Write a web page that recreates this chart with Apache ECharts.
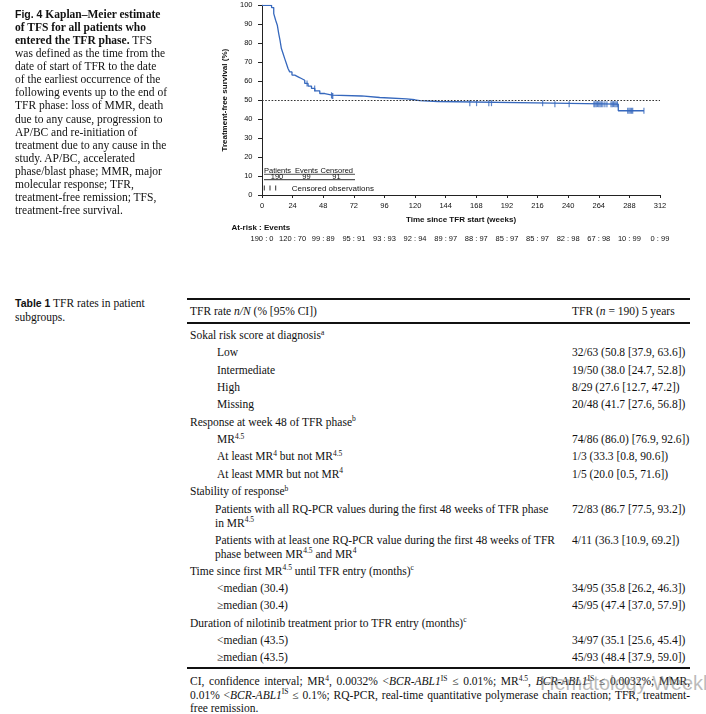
<!DOCTYPE html>
<html><head><meta charset="utf-8">
<script src="https://cdn.jsdelivr.net/npm/echarts@6/dist/echarts.min.js"></script>
<style>
html,body{margin:0;padding:0;background:#fff;width:706px;height:714px;overflow:hidden;position:relative;}
#chart{position:absolute;left:0;top:0;width:706px;height:260px;}
.t{position:absolute;font-family:'Liberation Serif','Times New Roman',serif;font-size:11.5px;color:#111;white-space:nowrap;line-height:14px;}
.b{font-weight:bold}
.sans{font-family:'Liberation Sans',Arial,sans-serif;font-size:10.5px;}
sup{font-size:7.5px;vertical-align:0;position:relative;top:-4.5px;line-height:0}
.rule{position:absolute;background:#111;}
.just{text-align:justify;text-align-last:justify;white-space:normal;}
.wm{position:absolute;font-family:'Liberation Sans','Noto Sans',sans-serif;font-size:20px;color:rgba(120,120,120,0.5);white-space:nowrap;}
</style></head><body>
<div id="chart"></div>
<div id="text"></div>
<script>
// ---------- chart data ----------
const weeks    = [0, 7.5, 9.2, 10.7, 12.0, 13.1, 14.1, 15.2, 16.5, 17.8, 19.1, 20.4, 21.7, 23.5, 25.7, 28.3, 30.9, 33.5, 36.1, 38.8, 41.4, 45.3, 49.2, 55.0, 78.0, 92.3, 113.3, 119.8, 123.7, 137.8, 228.1, 279.3, 299.4];
const survival = [100, 98.8, 95.6, 92.1, 89.5, 85.1, 81.6, 77.2, 74.6, 71.9, 69.3, 66.7, 64.9, 63.2, 62.3, 61.4, 60.5, 58.8, 57.4, 56.2, 54.9, 53.5, 52.6, 52.2, 51.4, 50.7, 50.2, 49.7, 49.3, 48.4, 47.9, 44.4, 44.4];
const censorWeeks = [35.3, 41.3, 54.5, 55.0, 55.5, 162.9, 168.2, 177.8, 179.9, 220.0, 229.6, 240.8, 260.2, 261.0, 262.0, 263.0, 264.0, 265.0, 266.0, 267.2, 268.8, 270.4, 273.6, 274.6, 275.6, 276.6, 277.6, 278.6, 286.7, 287.7, 288.7, 289.7, 290.6, 299.4];
const xTicks = [0, 24, 48, 72, 96, 120, 144, 168, 192, 216, 240, 264, 288, 312];
const atRisk       = [190, 120, 99, 95, 93, 92, 89, 88, 85, 85, 82, 67, 10, 0];
const eventsAtRisk = [0, 70, 89, 91, 93, 94, 97, 97, 97, 97, 98, 98, 99, 99];
const summaryHeads = ['Patients', 'Events', 'Censored'];
const summaryVals  = [190, 99, 91];

// ---------- text data ----------
const captionLines = [
  '<span class="sans b">Fig. 4</span> <b>Kaplan–Meier estimate</b>',
  '<b>of TFS for all patients who</b>',
  '<b>entered the TFR phase.</b> TFS',
  'was defined as the time from the',
  'date of start of TFR to the date',
  'of the earliest occurrence of the',
  'following events up to the end of',
  'TFR phase: loss of MMR, death',
  'due to any cause, progression to',
  'AP/BC and re-initiation of',
  'treatment due to any cause in the',
  'study. AP/BC, accelerated',
  'phase/blast phase; MMR, major',
  'molecular response; TFR,',
  'treatment-free remission; TFS,',
  'treatment-free survival.'
];
const tableCaption = ['<span class="sans b">Table 1</span> TFR rates in patient', 'subgroups.'];
const tableHeader = ['TFR rate <i>n/N</i> (% [95% CI])', 'TFR (<i>n</i> = 190) 5 years'];
const tableRows = [
  {label: ['Sokal risk score at diagnosis<sup>a</sup>'], level: 0},
  {label: ['Low'], value: '32/63 (50.8 [37.9, 63.6])', level: 1},
  {label: ['Intermediate'], value: '19/50 (38.0 [24.7, 52.8])', level: 1},
  {label: ['High'], value: '8/29 (27.6 [12.7, 47.2])', level: 1},
  {label: ['Missing'], value: '20/48 (41.7 [27.6, 56.8])', level: 1},
  {label: ['Response at week 48 of TFR phase<sup>b</sup>'], level: 0},
  {label: ['MR<sup>4.5</sup>'], value: '74/86 (86.0) [76.9, 92.6])', level: 1},
  {label: ['At least MR<sup>4</sup> but not MR<sup>4.5</sup>'], value: '1/3 (33.3 [0.8, 90.6])', level: 1},
  {label: ['At least MMR but not MR<sup>4</sup>'], value: '1/5 (20.0 [0.5, 71.6])', level: 1},
  {label: ['Stability of response<sup>b</sup>'], level: 0},
  {label: ['Patients with all RQ-PCR values during the first 48 weeks of TFR phase', 'in MR<sup>4.5</sup>'], value: '72/83 (86.7 [77.5, 93.2])', level: 1},
  {label: ['Patients with at least one RQ-PCR value during the first 48 weeks of TFR', 'phase between MR<sup>4.5</sup> and MR<sup>4</sup>'], value: '4/11 (36.3 [10.9, 69.2])', level: 1},
  {label: ['Time since first MR<sup>4.5</sup> until TFR entry (months)<sup>c</sup>'], level: 0},
  {label: ['&lt;median (30.4)'], value: '34/95 (35.8 [26.2, 46.3])', level: 1},
  {label: ['≥median (30.4)'], value: '45/95 (47.4 [37.0, 57.9])', level: 1},
  {label: ['Duration of nilotinib treatment prior to TFR entry (months)<sup>c</sup>'], level: 0},
  {label: ['&lt;median (43.5)'], value: '34/97 (35.1 [25.6, 45.4])', level: 1},
  {label: ['≥median (43.5)'], value: '45/93 (48.4 [37.9, 59.0])', level: 1}
];
const footnoteLines = [
  'CI, confidence interval; MR<sup>4</sup>, 0.0032% &lt;<i>BCR-ABL1</i><sup>IS</sup> ≤ 0.01%; MR<sup>4.5</sup>, <i>BCR-ABL1</i><sup>IS</sup> ≤ 0.0032%; MMR,',
  '0.01% &lt;<i>BCR-ABL1</i><sup>IS</sup> ≤ 0.1%; RQ-PCR, real-time quantitative polymerase chain reaction; TFR, treatment-',
  'free remission.'
];
const watermark = 'Hematology Weekly';

// ---------- build text ----------
const T = document.getElementById('text');
function addText(html, x, yc, cls, extra) {
  const d = document.createElement('div');
  d.className = 't' + (cls ? ' ' + cls : '');
  d.style.left = x + 'px';
  d.style.top = (yc - 7) + 'px';
  if (extra) Object.assign(d.style, extra);
  d.innerHTML = html;
  T.appendChild(d);
  return d;
}
function addRule(x1, x2, y, h) {
  const d = document.createElement('div');
  d.className = 'rule';
  d.style.left = x1 + 'px'; d.style.width = (x2 - x1) + 'px';
  d.style.top = (y - h / 2) + 'px'; d.style.height = h + 'px';
  T.appendChild(d);
}
captionLines.forEach((l, i) => addText(l, 15, 14 + i * 13.07));
tableCaption.forEach((l, i) => addText(l, 15, 303 + i * 14));

const TL = 187, TR = 690, LX = 190, IND = 217, VX = 572;
addRule(TL, TR, 298.5, 2);
addText(tableHeader[0], LX, 311);
addText(tableHeader[1], VX, 311);
addRule(TL, TR, 322.5, 2);
let y = 335;
tableRows.forEach(r => {
  const x = r.level ? IND : LX;
  r.label.forEach((l, k) => addText(l, r.label.length > 1 ? x - 2 : x, y + k * 14));
  if (r.value) addText(r.value, VX, y);
  y += r.label.length > 1 ? 31 : 17.35;
});
addRule(TL, TR, 668, 2);
footnoteLines.forEach((l, i) => {
  const opt = i < 2 ? {width: (TR - LX) + 'px'} : null;
  addText(l, LX, 681 + i * 13.5, i < 2 ? 'just' : '', opt);
});
const wm = document.createElement('div');
wm.className = 'wm'; wm.style.left = '540px'; wm.style.top = '672px';
wm.textContent = watermark; T.appendChild(wm);

// ---------- chart ----------
const FONT = "'Liberation Sans', Arial, Helvetica, sans-serif";
const BLUE = '#3668bd';
function survAt(t) {
  let v = survival[0];
  for (let i = 0; i < weeks.length; i++) { if (weeks[i] <= t) v = survival[i]; }
  return v;
}
const chart = echarts.init(document.getElementById('chart'), null, {renderer: 'canvas'});
const lbl = {fontSize: 7.5, color: '#111', fontFamily: FONT};
const graphics = [];
const hx = [264, 295, 320.5];
summaryHeads.forEach((h, i) => graphics.push({type: 'text', x: hx[i], y: 170.5, style: {text: h, font: '7.5px ' + FONT, fill: '#111', textVerticalAlign: 'middle'}}));
graphics.push({type: 'line', shape: {x1: 264, y1: 174.3, x2: 355, y2: 174.3}, style: {stroke: '#222', lineWidth: 0.8}});
const vx = [277, 306.5, 336.5];
summaryVals.forEach((v, i) => graphics.push({type: 'text', x: vx[i], y: 176.9, style: {text: String(v), font: '7.5px ' + FONT, fill: '#111', textAlign: 'center', textVerticalAlign: 'middle'}}));
graphics.push({type: 'line', shape: {x1: 264, y1: 179.7, x2: 355, y2: 179.7}, style: {stroke: '#555', lineWidth: 1.3}});
[264.3, 270, 275.7].forEach(x => graphics.push({type: 'line', shape: {x1: x, y1: 185.5, x2: x, y2: 190.5}, style: {stroke: '#333', lineWidth: 1}}));
graphics.push({type: 'text', x: 291.7, y: 188.3, style: {text: 'Censored observations', font: '8px ' + FONT, fill: '#111', textVerticalAlign: 'middle'}});
graphics.push({type: 'text', x: 231.5, y: 227.5, style: {text: 'At-risk : Events', font: 'bold 8px ' + FONT, fill: '#111', textVerticalAlign: 'middle'}});

chart.setOption({
  animation: false,
  grid: {left: 262, right: 46, top: 5.3, height: 189.7, containLabel: false, outerBoundsMode: 'none'},
  xAxis: [{
    type: 'value', min: 0, max: 312, interval: 24, offset: 3, position: 'bottom',
    axisLine: {show: true, lineStyle: {color: '#222', width: 1}},
    axisTick: {show: true, length: 3, lineStyle: {color: '#222'}},
    splitLine: {show: false},
    axisLabel: Object.assign({margin: 4, showMinLabel: true, showMaxLabel: true}, lbl),
    name: 'Time since TFR start (weeks)', nameLocation: 'middle', nameGap: 18,
    nameTextStyle: {fontWeight: 'bold', fontSize: 8, fontFamily: FONT, color: '#111'}
  }, {
    type: 'value', min: 0, max: 312, interval: 24, offset: 40, position: 'bottom',
    axisLine: {show: false}, axisTick: {show: false}, splitLine: {show: false},
    axisLabel: Object.assign({margin: 0, showMinLabel: true, showMaxLabel: true, formatter: v => {
      const i = xTicks.indexOf(v); return i < 0 ? '' : atRisk[i] + ' : ' + eventsAtRisk[i];
    }}, lbl)
  }],
  yAxis: {
    type: 'value', min: 0, max: 100, interval: 10, offset: 4,
    axisLine: {show: true, lineStyle: {color: '#222', width: 1}},
    axisTick: {show: true, length: 4, lineStyle: {color: '#222'}},
    splitLine: {show: false},
    axisLabel: Object.assign({margin: 5.5}, lbl),
    name: 'Treatment-free survival (%)', nameLocation: 'middle', nameGap: 16,
    nameTextStyle: {fontWeight: 'bold', fontSize: 8, fontFamily: FONT, color: '#111'}
  },
  graphic: graphics,
  series: [{
    type: 'line', step: 'end', showSymbol: false, symbol: 'none',
    data: weeks.map((w, i) => [w, survival[i]]),
    lineStyle: {color: BLUE, width: 1.3},
    z: 3,
    markLine: {silent: true, symbol: ['none', 'none'], label: {show: false},
      lineStyle: {type: [1.6, 1.6], color: '#333', width: 1.2},
      data: [{yAxis: 50}]}
  }, {
    type: 'scatter', symbol: 'rect', symbolSize: [1.2, 6],
    data: censorWeeks.map(w => [w, survAt(w)]),
    itemStyle: {color: BLUE}, z: 4
  }]
});
</script>
</body></html>
